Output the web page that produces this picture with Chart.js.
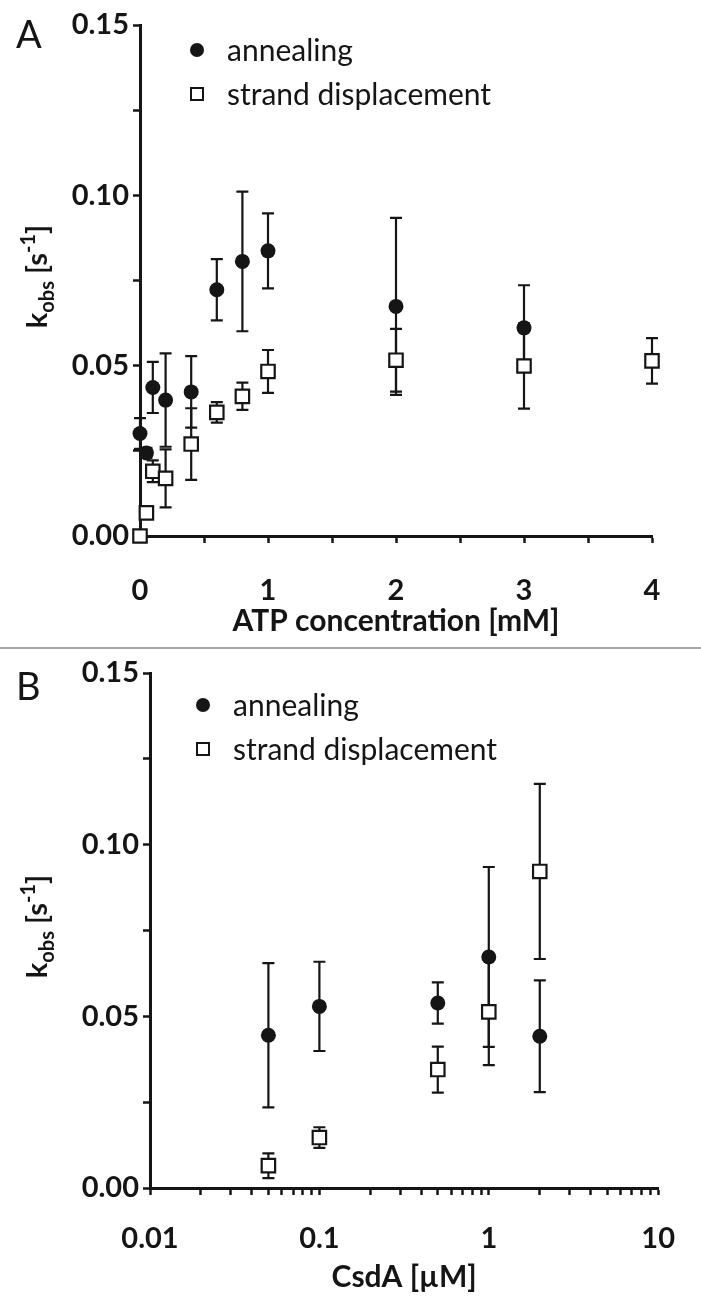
<!DOCTYPE html>
<html>
<head>
<meta charset="utf-8">
<script src="https://cdn.jsdelivr.net/npm/chart.js@4.4.1/dist/chart.umd.min.js"></script>
<style>
  body { margin: 0; background: #fff; width: 701px; height: 1309px; position: relative; overflow: hidden; }
  canvas { position: absolute; left: 0; }
  #chartA { top: 0; }
  #chartB { top: 650px; }
  .divider { position: absolute; left: 0; top: 647px; width: 701px; height: 2px; background: #a3a3a3; }
</style>
</head>
<body>
<canvas id="chartA" width="701" height="647"></canvas>
<div class="divider"></div>
<canvas id="chartB" width="701" height="659"></canvas>
<script>
// panel A: ATP titration
const atpConc = [0, 0.05, 0.1, 0.2, 0.4, 0.6, 0.8, 1, 2, 3];
const atpAnnealing = [0.0301, 0.0244, 0.0436, 0.0399, 0.0423, 0.0723, 0.0806, 0.0837, 0.0674, 0.0611];
const atpAnnealingErr = [0.0045, 0.0015, 0.0075, 0.0137, 0.0105, 0.0090, 0.0205, 0.0110, 0.0260, 0.0125];
const atpConcStrand = [0, 0.05, 0.1, 0.2, 0.4, 0.6, 0.8, 1, 2, 3, 4];
const atpStrand = [0.0000, 0.0068, 0.0190, 0.0169, 0.0270, 0.0363, 0.0410, 0.0483, 0.0516, 0.0499, 0.0514];
const atpStrandErr = [0.0000, 0.0000, 0.0032, 0.0085, 0.0105, 0.0030, 0.0040, 0.0063, 0.0092, 0.0125, 0.0067];

// panel B: CsdA titration
const csdaConc = [0.05, 0.1, 0.5, 1, 2];
const csdaAnnealing = [0.0445, 0.0529, 0.0539, 0.0673, 0.0442];
const csdaAnnealingErr = [0.0210, 0.0130, 0.0060, 0.0262, 0.0163];
const csdaStrand = [0.0065, 0.0147, 0.0345, 0.0513, 0.0922];
const csdaStrandErr = [0.0036, 0.0030, 0.0067, 0.0155, 0.0255];

// tick labels
const kTicks = [0, 0.05, 0.10, 0.15];
const atpTicks = [0, 1, 2, 3, 4];
const csdaTicks = [0.01, 0.1, 1, 10];

const seriesNames = ['annealing', 'strand displacement'];

const FONT = 'Lato';
const INK = '#151515';

function toPoints(xs, ys) {
  return xs.map((x, i) => ({ x: x, y: ys[i] }));
}

// minor ticks half way between the major ones
function withMinor(major) {
  const out = [];
  major.forEach((v, i) => {
    out.push(v);
    if (i < major.length - 1) out.push((v + major[i + 1]) / 2);
  });
  return out;
}

// 2..9 inside every decade
function logTicks(major) {
  const out = [];
  major.forEach((v, i) => {
    out.push(v);
    if (i < major.length - 1) {
      for (let m = 2; m <= 9; m++) out.push(v * m);
    }
  });
  return out;
}

function isMajor(v, major) {
  return major.some(m => Math.abs(m - v) < 1e-9 * Math.max(1, Math.abs(m)));
}

const errorBars = {
  id: 'errorBars',
  beforeDatasetsDraw(chart) {
    const { ctx, scales } = chart;
    ctx.save();
    ctx.strokeStyle = INK;
    ctx.lineWidth = 2.2;
    chart.data.datasets.forEach(ds => {
      ds.data.forEach((p, i) => {
        const e = ds.err[i];
        if (!e) return;
        const x = scales.x.getPixelForValue(p.x);
        const yt = scales.y.getPixelForValue(p.y + e);
        const yb = scales.y.getPixelForValue(p.y - e);
        ctx.beginPath();
        ctx.moveTo(x, yt); ctx.lineTo(x, yb);
        ctx.moveTo(x - 6, yt); ctx.lineTo(x + 6, yt);
        ctx.moveTo(x - 6, yb); ctx.lineTo(x + 6, yb);
        ctx.stroke();
      });
    });
    ctx.restore();
  }
};

const decorations = {
  id: 'decorations',
  afterDraw(chart, args, opts) {
    const { ctx, chartArea } = chart;
    ctx.save();
    ctx.fillStyle = INK;
    ctx.strokeStyle = INK;

    // panel letter
    ctx.font = '38px ' + FONT;
    ctx.textBaseline = 'alphabetic';
    ctx.fillText(opts.letter, 16, opts.letterY);

    // legend inside the plot
    const lx = chartArea.left + opts.legendDx;
    const ly = chartArea.top + opts.legendDy;
    ctx.beginPath();
    ctx.arc(lx, ly, 7, 0, Math.PI * 2);
    ctx.fill();
    ctx.lineWidth = 2;
    ctx.fillStyle = '#fff';
    ctx.fillRect(lx - 6, ly + 44 - 6, 12, 12);
    ctx.strokeRect(lx - 6, ly + 44 - 6, 12, 12);
    ctx.fillStyle = INK;
    ctx.font = '30px ' + FONT;
    ctx.textBaseline = 'middle';
    ctx.fillText(seriesNames[0], lx + 30, ly + 1);
    ctx.fillText(seriesNames[1], lx + 30, ly + 45);

    // y title: k_obs [s^-1]
    const big = 'bold 29px ' + FONT, small = 'bold 20px ' + FONT;
    const parts = [
      { t: 'k', f: big, dy: 0 },
      { t: 'obs', f: small, dy: 7 },
      { t: ' [s', f: big, dy: 0 },
      { t: '-1', f: small, dy: -12 },
      { t: ']', f: big, dy: 0 }
    ];
    let w = 0;
    parts.forEach(p => { ctx.font = p.f; p.w = ctx.measureText(p.t).width; w += p.w; });
    ctx.translate(47, (chartArea.top + chartArea.bottom) / 2 - 4);
    ctx.rotate(-Math.PI / 2);
    ctx.textBaseline = 'alphabetic';
    let pos = -w / 2;
    parts.forEach(p => { ctx.font = p.f; ctx.fillText(p.t, pos, p.dy); pos += p.w; });
    ctx.restore();
  }
};

function axisStyle() {
  return {
    border: { color: INK, width: 3 },
    grid: { drawOnChartArea: false, drawTicks: true, tickLength: 7, tickWidth: 2.5, tickColor: INK },
    ticks: { color: INK, font: { family: FONT, weight: 'bold', size: 29 }, autoSkip: false, maxRotation: 0 }
  };
}

function makeChart(id, cfg) {
  const xAxis = axisStyle();
  const yAxis = axisStyle();
  xAxis.type = cfg.xType;
  xAxis.min = cfg.xTicks[0];
  xAxis.max = cfg.xTicks[cfg.xTicks.length - 1];
  xAxis.afterBuildTicks = s => { s.ticks = cfg.xAll.map(v => ({ value: v })); };
  xAxis.afterFit = s => { s.height = cfg.xHeight; };
  xAxis.ticks.padding = cfg.xTickPad;
  xAxis.ticks.callback = v => isMajor(v, cfg.xTicks) ? String(v) : '';
  xAxis.title = { display: true, text: cfg.xTitle, color: INK, font: { family: FONT, weight: 'bold', size: 30 }, padding: { top: 0, bottom: cfg.xTitlePad } };

  yAxis.min = 0;
  yAxis.max = 0.15;
  yAxis.afterBuildTicks = s => { s.ticks = withMinor(kTicks).map(v => ({ value: v })); };
  yAxis.afterFit = s => { s.width = cfg.yWidth; };
  yAxis.ticks.padding = 4;
  yAxis.ticks.callback = v => isMajor(v, kTicks) ? v.toFixed(2) : '';

  return new Chart(document.getElementById(id), {
    type: 'scatter',
    data: {
      datasets: [
        {
          label: seriesNames[0],
          data: toPoints(cfg.xs1, cfg.ys1),
          err: cfg.err1,
          pointStyle: 'circle',
          pointRadius: 7.5,
          backgroundColor: INK,
          borderColor: INK,
          borderWidth: 0,
          clip: false
        },
        {
          label: seriesNames[1],
          data: toPoints(cfg.xs2, cfg.ys2),
          err: cfg.err2,
          pointStyle: 'rect',
          pointRadius: 9.5,
          backgroundColor: '#fff',
          borderColor: INK,
          borderWidth: 2.2,
          clip: false
        }
      ]
    },
    options: {
      responsive: false,
      animation: false,
      events: [],
      layout: { padding: { top: cfg.top, right: cfg.right, left: 0, bottom: 0 } },
      scales: { x: xAxis, y: yAxis },
      plugins: {
        legend: { display: false },
        tooltip: { enabled: false },
        decorations: cfg.deco
      }
    },
    plugins: [errorBars, decorations]
  });
}

makeChart('chartA', {
  xType: 'linear',
  xTicks: atpTicks,
  xAll: withMinor(atpTicks),
  xTitle: 'ATP concentration [mM]',
  xs1: atpConc, ys1: atpAnnealing, err1: atpAnnealingErr,
  xs2: atpConcStrand, ys2: atpStrand, err2: atpStrandErr,
  top: 25, right: 49, yWidth: 140, xHeight: 111,
  xTickPad: 30, xTitlePad: 8,
  deco: { letter: 'A', letterY: 48, legendDx: 57, legendDy: 25 }
});

makeChart('chartB', {
  xType: 'logarithmic',
  xTicks: csdaTicks,
  xAll: logTicks(csdaTicks),
  xTitle: 'CsdA [µM]',
  xs1: csdaConc, ys1: csdaAnnealing, err1: csdaAnnealingErr,
  xs2: csdaConc, ys2: csdaStrand, err2: csdaStrandErr,
  top: 23, right: 38, yWidth: 150, xHeight: 121,
  xTickPad: 26, xTitlePad: 14,
  deco: { letter: 'B', letterY: 50, legendDx: 53, legendDy: 32 }
});
</script>
</body>
</html>
